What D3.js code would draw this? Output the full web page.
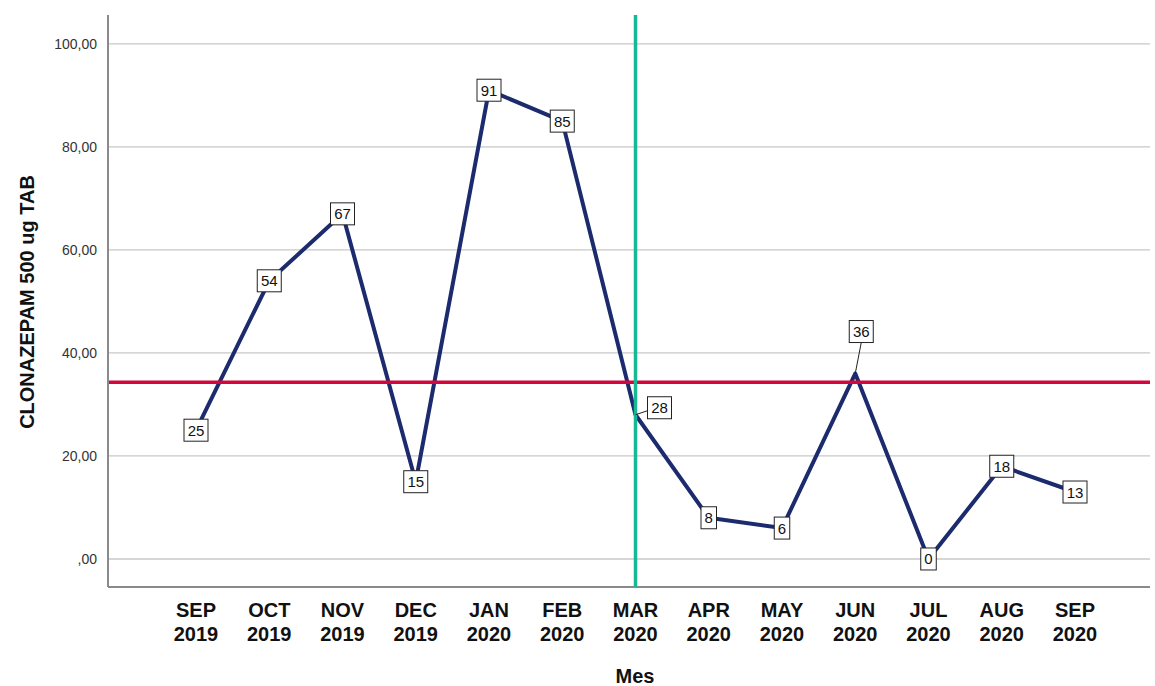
<!DOCTYPE html>
<html>
<head>
<meta charset="utf-8">
<style>
  body { margin: 0; background: #fff; font-family: "Liberation Sans", Arial, sans-serif; }
  .grid line { stroke: #c8c8c8; stroke-width: 1.3; }
  .ytick { font-size: 14px; fill: #333; }
  .xtick { font-size: 20px; font-weight: bold; fill: #111; }
  .title { font-size: 20px; font-weight: bold; fill: #111; }
  .lbl rect { fill: #fff; stroke: #222; stroke-width: 1; }
  .lbl text { font-size: 15px; fill: #111; }
</style>
</head>
<body>
<script src="https://cdn.jsdelivr.net/npm/d3@7"></script>
<script>
var months = ["SEP","OCT","NOV","DEC","JAN","FEB","MAR","APR","MAY","JUN","JUL","AUG","SEP"];
var years  = ["2019","2019","2019","2019","2020","2020","2020","2020","2020","2020","2020","2020","2020"];
var values = [25, 54, 67, 15, 91, 85, 28, 8, 6, 36, 0, 18, 13];
var yTicks = [0, 20, 40, 60, 80, 100];
var meanValue = d3.mean(values);
var cutIndex = 6; // MAR 2020
// label offsets for the two labels that sit away from their point
var labelShift = { 6: [24, -7], 9: [6, -42] };

var W = 1155, H = 686;
var pLeft = 108, pRight = 1150, pTop = 15, pBottom = 587;

var svg = d3.select("body").append("svg").attr("width", W).attr("height", H);

var idx = d3.range(values.length);
var x = d3.scalePoint().domain(idx).range([196, 1075]);
var y = d3.scaleLinear().domain([-5.44, 105.6]).range([pBottom, pTop]);

// gridlines
svg.append("g").attr("class", "grid").selectAll("line").data(yTicks).enter()
  .append("line")
  .attr("x1", pLeft).attr("x2", pRight)
  .attr("y1", function(d){ return y(d); }).attr("y2", function(d){ return y(d); });

// y tick labels
svg.append("g").selectAll("text").data(yTicks).enter()
  .append("text").attr("class", "ytick")
  .attr("x", 97).attr("y", function(d){ return y(d) + 5; })
  .attr("text-anchor", "end")
  .text(function(d){ return d === 0 ? ",00" : d + ",00"; });

// axes lines
svg.append("line").attr("x1", pLeft).attr("x2", pLeft).attr("y1", pTop).attr("y2", pBottom)
  .attr("stroke", "#8a8a8a").attr("stroke-width", 2);
svg.append("line").attr("x1", pLeft).attr("x2", pRight).attr("y1", pBottom).attr("y2", pBottom)
  .attr("stroke", "#8a8a8a").attr("stroke-width", 2);

// x tick labels
var xt = svg.append("g").selectAll("text").data(idx).enter()
  .append("text").attr("class", "xtick").attr("text-anchor", "middle");
xt.append("tspan").attr("x", function(i){ return x(i); }).attr("y", 617)
  .text(function(i){ return months[i]; });
xt.append("tspan").attr("x", function(i){ return x(i); }).attr("y", 641)
  .text(function(i){ return years[i]; });

// axis titles
svg.append("text").attr("class", "title").attr("x", 635).attr("y", 683)
  .attr("text-anchor", "middle").text("Mes");
svg.append("text").attr("class", "title")
  .attr("transform", "translate(34," + 302 + ") rotate(-90)")
  .attr("text-anchor", "middle").text("CLONAZEPAM 500 ug TAB");

// data line
var line = d3.line().x(function(d, i){ return x(i); }).y(function(d){ return y(d); });
svg.append("path").datum(values).attr("d", line)
  .attr("fill", "none").attr("stroke", "#1c2b6e").attr("stroke-width", 4)
  .attr("stroke-linejoin", "round");

// mean reference line
svg.append("line").attr("x1", pLeft + 1).attr("x2", pRight)
  .attr("y1", y(meanValue)).attr("y2", y(meanValue))
  .attr("stroke", "#d4073c").attr("stroke-width", 3.5);

// intervention line
svg.append("line").attr("x1", x(cutIndex)).attr("x2", x(cutIndex))
  .attr("y1", pTop).attr("y2", pBottom)
  .attr("stroke", "#17b894").attr("stroke-width", 3.5);

// value labels
var lbl = svg.append("g").selectAll("g").data(idx).enter()
  .append("g").attr("class", "lbl");
lbl.each(function(i){
  var g = d3.select(this);
  var px = x(i), py = y(values[i]);
  var s = labelShift[i] || [0, 0];
  var cx = px + s[0], cy = py + s[1];
  var t = String(values[i]);
  var w = t.length * 8.5 + 7, h = 22;
  if (labelShift[i]) {
    var ex = s[0] > 10 ? cx - w / 2 : cx, ey = s[0] > 10 ? cy + 3 : cy + h / 2;
    g.append("line").attr("x1", px).attr("y1", py).attr("x2", ex).attr("y2", ey)
      .attr("stroke", "#222").attr("stroke-width", 1);
  }
  g.append("rect").attr("x", cx - w / 2).attr("y", cy - h / 2).attr("width", w).attr("height", h);
  g.append("text").attr("x", cx).attr("y", cy + 5.5).attr("text-anchor", "middle").text(t);
});
</script>
</body>
</html>
